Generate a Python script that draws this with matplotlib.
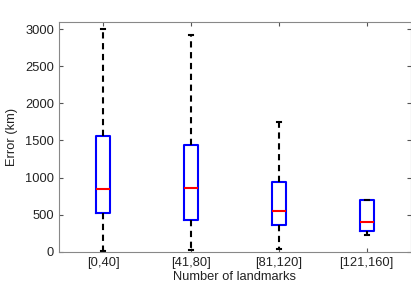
import matplotlib
matplotlib.use("Agg")
import matplotlib.pyplot as plt

plt.rcParams['font.family'] = ['Liberation Sans', 'DejaVu Sans']

categories = ["[0,40]", "[41,80]", "[81,120]", "[121,160]"]
whislo = [13, 23, 40, 229]
q1 = [526, 423, 360, 283]
med = [849, 854, 552, 404]
q3 = [1559, 1438, 935, 697]
whishi = [3000, 2925, 1744, 697]

stats = []
for i in range(len(categories)):
    stats.append(dict(label=categories[i], whislo=whislo[i], q1=q1[i], med=med[i],
                      q3=q3[i], whishi=whishi[i], fliers=[]))

fig = plt.figure(figsize=(4.11, 2.82), dpi=100)
ax = fig.add_axes([59/411, 1-251.7/282, (410.7-59)/411, (251.7-21.7)/282])

ax.bxp(stats, positions=range(1, len(categories)+1), widths=0.155, showfliers=False,
       boxprops=dict(color='blue', linewidth=1.5),
       medianprops=dict(color='red', linewidth=1.5),
       whiskerprops=dict(color='black', linewidth=1.5, linestyle=(0, (3, 2.2))),
       capprops=dict(color='black', linewidth=1.5),
       capwidths=0.05)

ax.set_xlim(0.5, 4.5)
ax.set_ylim(0, 3100)
ax.set_yticks([0, 500, 1000, 1500, 2000, 2500, 3000])
ax.set_xticks(range(1, len(categories)+1))
ax.set_xticklabels(categories)
ax.tick_params(direction='in', top=True, right=True, labelsize=9.3, colors='#555555',
               labelcolor='#222222', length=3, width=0.8)
for s in ax.spines.values():
    s.set_color('#888888')
    s.set_linewidth(0.8)
ax.set_ylabel("Error (km)", fontsize=9.3, color='#222222', labelpad=5)
ax.set_xlabel("Number of landmarks", fontsize=9.3, color='#222222', labelpad=2)

fig.savefig("out.png", dpi=100)
